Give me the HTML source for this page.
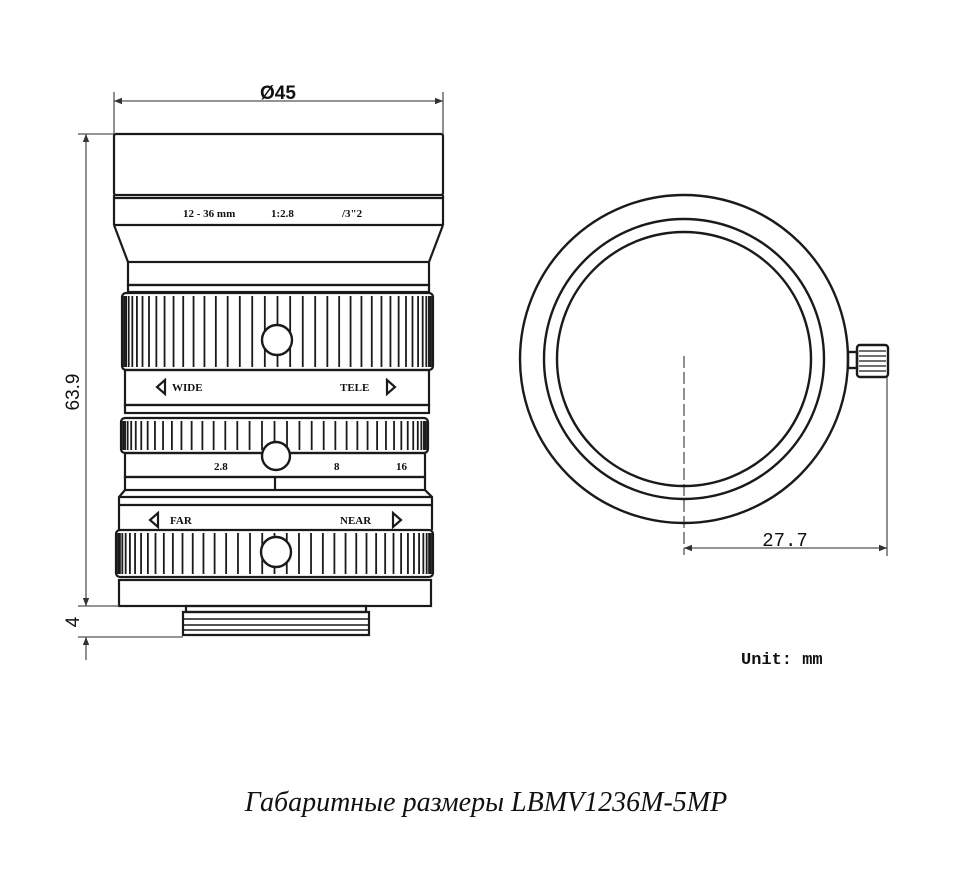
<!DOCTYPE html>
<html><head><meta charset="utf-8"><style>
html,body{margin:0;padding:0;background:#fff;}
svg{display:block}
text{font-family:"Liberation Serif",serif;fill:#111}
</style></head><body>
<svg id="s" width="965" height="883" viewBox="0 0 965 883" xmlns="http://www.w3.org/2000/svg">
<defs>
<marker id="a" viewBox="0 0 10 10" refX="10" refY="5" markerWidth="10" markerHeight="8" orient="auto-start-reverse" markerUnits="userSpaceOnUse"><path d="M0,1 L10,5 L0,9 z" fill="#333"/></marker>
</defs>
<g fill="none" stroke="#1a1a1a" stroke-width="2.2">
<rect x="114" y="134" width="329" height="61" rx="2"/>
<line x1="114" y1="198" x2="443" y2="198"/>
<line x1="114" y1="225" x2="443" y2="225"/>
<path d="M114,225 L128,262 M443,225 L429,262"/>
<line x1="114" y1="195" x2="114" y2="225"/><line x1="443" y1="195" x2="443" y2="225"/>
<rect x="128" y="262" width="301" height="23"/>
<rect x="128" y="285" width="301" height="7"/>
<rect x="122" y="293" width="311" height="77" rx="4"/>
<rect x="125" y="370" width="304" height="35"/>
<rect x="125" y="405" width="304" height="8"/>
<rect x="121" y="418" width="307" height="35" rx="4"/>
<rect x="125" y="453" width="300" height="24"/>
<rect x="125" y="477" width="300" height="13"/>
<line x1="275" y1="477" x2="275" y2="490"/>
<path d="M125,490 L119,497 L119,530 M425,490 L432,497 L432,530 M119,497 L432,497"/>
<line x1="119" y1="505" x2="432" y2="505"/>
<rect x="116" y="530" width="317" height="47" rx="4"/>
<rect x="119" y="580" width="312" height="26"/>
<rect x="186" y="606" width="180" height="6"/>
<path d="M183,612 L369,612 L369,635 L183,635 Z"/>
<line x1="183" y1="619" x2="369" y2="619" stroke-width="1.5"/>
<line x1="183" y1="625" x2="369" y2="625" stroke-width="1.5"/>
<line x1="183" y1="630" x2="369" y2="630" stroke-width="1.5"/>
<path d="M165,380 L157,387 L165,394 Z M387,380 L395,387 L387,394 Z M158,513 L150,520 L158,527 Z M393,513 L401,520 L393,527 Z"/>
</g>
<g id="knurls" stroke="#1a1a1a" stroke-width="1.8"></g>
<g fill="#fff" stroke="#1a1a1a" stroke-width="2.4">
<circle cx="277" cy="340" r="15"/>
<circle cx="276" cy="456" r="14"/>
<circle cx="276" cy="552" r="15"/>
</g>
<g font-size="11" font-weight="bold">
<text x="183" y="217">12 - 36 mm</text>
<text x="271" y="217">1:2.8</text>
<text x="342" y="217">/3"2</text>
<text x="172" y="391">WIDE</text>
<text x="340" y="391">TELE</text>
<text x="214" y="470">2.8</text>
<text x="334" y="470">8</text>
<text x="396" y="470">16</text>
<text x="170" y="524">FAR</text>
<text x="340" y="524">NEAR</text>
</g>
<g stroke="#555" stroke-width="1.3" fill="none">
<line x1="114" y1="92" x2="114" y2="134"/><line x1="443" y1="92" x2="443" y2="134"/>
<line x1="114" y1="101" x2="443" y2="101" marker-start="url(#a)" marker-end="url(#a)"/>
<line x1="78" y1="134" x2="114" y2="134"/><line x1="78" y1="606" x2="119" y2="606"/><line x1="78" y1="637" x2="183" y2="637"/>
<line x1="86" y1="134" x2="86" y2="606" marker-start="url(#a)" marker-end="url(#a)"/>
<line x1="86" y1="660" x2="86" y2="637" marker-end="url(#a)"/>
<line x1="684" y1="356" x2="684" y2="555" stroke-dasharray="12,4"/>
<line x1="887" y1="377" x2="887" y2="556"/>
<line x1="684" y1="548" x2="887" y2="548" marker-start="url(#a)" marker-end="url(#a)"/>
</g>
<g fill="none" stroke="#1a1a1a" stroke-width="2.4">
<circle cx="684" cy="359" r="164"/>
<circle cx="684" cy="359" r="140"/>
<circle cx="684" cy="359" r="127"/>
<rect x="848" y="352" width="9" height="16"/>
<rect x="857" y="345" width="31" height="32" rx="3"/>
</g>
<g stroke="#1a1a1a" stroke-width="1.3">
<line x1="859" y1="351" x2="886" y2="351"/><line x1="859" y1="356" x2="886" y2="356"/><line x1="859" y1="361" x2="886" y2="361"/><line x1="859" y1="366" x2="886" y2="366"/><line x1="859" y1="371" x2="886" y2="371"/>
</g>
<text x="278" y="99" font-size="19" font-weight="bold" text-anchor="middle" style="font-family:'Liberation Sans',sans-serif">Ø45</text>
<text transform="translate(79,392) rotate(-90)" font-size="19" text-anchor="middle" style="font-family:'Liberation Sans',sans-serif">63.9</text>
<text transform="translate(79,622) rotate(-90)" font-size="19" text-anchor="middle" style="font-family:'Liberation Sans',sans-serif">4</text>
<text x="785" y="546" font-size="19" text-anchor="middle" style="font-family:'Liberation Mono',monospace">27.7</text>
<text x="741" y="664" font-size="17" font-weight="bold" style="font-family:'Liberation Mono',monospace">Unit: mm</text>
<text x="486" y="811" font-size="28" font-style="italic" text-anchor="middle">Габаритные размеры LBMV1236M-5MP</text>
</svg>
<script>
var g=document.getElementById('knurls');
function kn(x1,x2,y1,y2){var n=Math.round((x2-x1)/16);for(var i=0;i<=n*2;i++){var t=i/(n*2);var c=(x1+x2)/2,h=(x2-x1)/2;var x=c-h*Math.cos(Math.PI*t);var l=document.createElementNS('http://www.w3.org/2000/svg','line');l.setAttribute('x1',x);l.setAttribute('x2',x);l.setAttribute('y1',y1);l.setAttribute('y2',y2);g.appendChild(l);}}
kn(124,431,296,367);kn(123,426,421,450);kn(118,431,533,574);
</script>
</body></html>
